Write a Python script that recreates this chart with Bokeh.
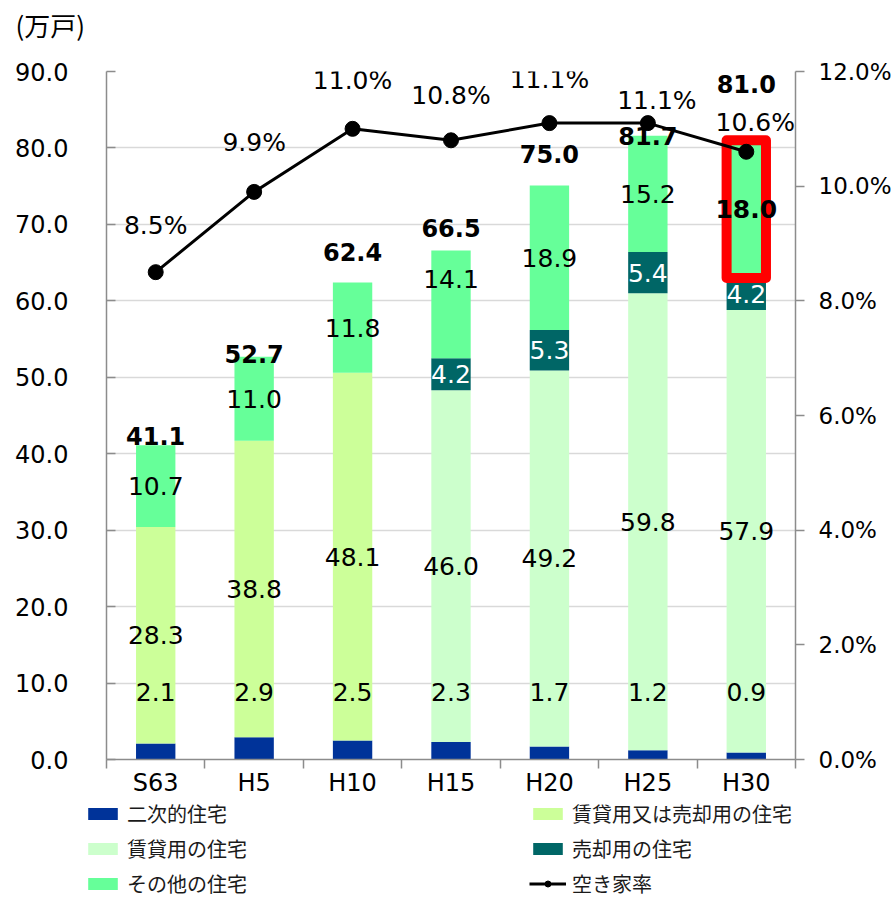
from bokeh.plotting import figure
from bokeh.layouts import column, row
from bokeh.models import (Range1d, LinearAxis, FixedTicker, NumeralTickFormatter,
                          ColumnDataSource, LabelSet, Label, Legend, LegendItem)
from bokeh.core.properties import value
from bokeh.embed import file_html
from bokeh.resources import INLINE

# ---------------- data ----------------
years = ["S63", "H5", "H10", "H15", "H20", "H25", "H30"]
second_home = [2.1, 2.9, 2.5, 2.3, 1.7, 1.2, 0.9]          # 二次的住宅
rent_or_sale = [28.3, 38.8, 48.1, 0, 0, 0, 0]              # 賃貸用又は売却用の住宅
rent = [0, 0, 0, 46.0, 49.2, 59.8, 57.9]                   # 賃貸用の住宅
sale = [0, 0, 0, 4.2, 5.3, 5.4, 4.2]                       # 売却用の住宅
other = [10.7, 11.0, 11.8, 14.1, 18.9, 15.2, 18.0]         # その他の住宅
totals = [41.1, 52.7, 62.4, 66.5, 75.0, 81.7, 81.0]
vacancy_rate = [8.5, 9.9, 11.0, 10.8, 11.1, 11.1, 10.6]    # 空き家率 (%)
y_ticks = [0, 10, 20, 30, 40, 50, 60, 70, 80, 90]
rate_ticks = [0, 2, 4, 6, 8, 10, 12]
series_names = ["二次的住宅", "賃貸用又は売却用の住宅", "賃貸用の住宅", "売却用の住宅", "その他の住宅"]
line_name = "空き家率"
unit_label = "(万戸)"
highlight_year = "H30"

# label placement tweaks (screen px, positive = up / right)
total_label_dy = [9, 3, 30, 22, 31, 0, 56]
rate_label_dy = [47, 49, 48, 45, 44, 23, 29]
rate_label_dx = [0, 0, 0, 0, 0, 9, 9]
other_label_dy = [0, 0, 0, 25, 0, 0, 0]

colors = ["#003399", "#CCFF99", "#CCFFCC", "#006666", "#66FF99"]
NUM_FONT = "DejaVu Sans"
JP_FONT = "Noto Sans CJK JP"
W = 896

n = len(years)
xs = [i + 0.5 for i in range(n)]
keys = ["s", "rs", "r", "sa", "o"]
src = ColumnDataSource(dict(x=xs, s=second_home, rs=rent_or_sale, r=rent, sa=sale, o=other))

# ---------------- top strip with the unit ----------------
top = figure(width=W, height=46, x_range=Range1d(0, 1), y_range=Range1d(0, 1),
             output_backend="svg", toolbar_location=None, min_border=0,
             x_axis_location=None, y_axis_location=None)
top.outline_line_color = None
top.grid.visible = False
top.add_layout(Label(x=15, y=22, x_units="screen", y_units="screen", text=unit_label,
                     text_font=JP_FONT, text_font_size="26px", text_baseline="middle",
                     text_color="black"))

# ---------------- main chart ----------------
p = figure(width=W, height=753, x_range=Range1d(0, n), y_range=Range1d(0, 90),
           output_backend="svg", toolbar_location=None,
           min_border_left=106, min_border_right=101, min_border_top=25, min_border_bottom=38)
p.outline_line_color = None
p.extra_y_ranges = {"rate": Range1d(0, 0.12)}

p.vbar_stack(keys, x="x", width=0.4, source=src, fill_color=colors, line_color=None)

# highlight outline around the H30 "other" segment
hi = years.index(highlight_year)
hb = second_home[hi] + rent_or_sale[hi] + rent[hi] + sale[hi]
p.vbar(x=[xs[hi]], bottom=[hb], top=[hb + other[hi]], width=0.4,
       fill_color=None, line_color="#FF0000", line_width=10, line_join="round")

rate_src = ColumnDataSource(dict(x=xs, y=[v / 100 for v in vacancy_rate]))
p.line("x", "y", source=rate_src, y_range_name="rate", line_color="black", line_width=3,
       level="overlay")
p.scatter("x", "y", source=rate_src, y_range_name="rate", size=15, fill_color="black",
          line_color="black", level="overlay")

AX = "#8C8C8C"
yax = p.yaxis[0]
yax.ticker = FixedTicker(ticks=y_ticks)
yax.formatter = NumeralTickFormatter(format="0.0")
yax.major_tick_in = 9
yax.major_tick_out = 0
yax.minor_tick_line_color = None
yax.axis_line_color = AX
yax.axis_line_width = 1.5
yax.major_tick_line_color = AX
yax.major_tick_line_width = 1.5
yax.major_label_standoff = 38
yax.major_label_text_font = NUM_FONT
yax.major_label_text_font_size = "24px"
yax.major_label_text_color = "black"

rax = LinearAxis(y_range_name="rate", ticker=FixedTicker(ticks=[t / 100 for t in rate_ticks]),
                 formatter=NumeralTickFormatter(format="0.0%"))
rax.major_tick_in = 0
rax.major_tick_out = 9
rax.minor_tick_line_color = None
rax.axis_line_color = AX
rax.axis_line_width = 1.5
rax.major_tick_line_color = AX
rax.major_tick_line_width = 1.5
rax.major_label_standoff = 14
rax.major_label_text_font = NUM_FONT
rax.major_label_text_font_size = "23px"
rax.major_label_text_color = "black"
p.add_layout(rax, "right")

xax = p.xaxis[0]
xax.ticker = FixedTicker(ticks=xs, minor_ticks=list(range(n + 1)))
xax.major_label_overrides = {x: y for x, y in zip(xs, years)}
xax.major_tick_in = 0
xax.major_tick_out = 0
xax.minor_tick_in = 0
xax.minor_tick_out = 9
xax.minor_tick_line_color = AX
xax.minor_tick_line_width = 1.5
xax.axis_line_color = AX
xax.axis_line_width = 1.5
xax.major_label_standoff = 0
xax.major_label_text_font = NUM_FONT
xax.major_label_text_font_size = "24px"
xax.major_label_text_color = "black"

p.xgrid.visible = False
p.ygrid.ticker = FixedTicker(ticks=y_ticks)
p.ygrid.grid_line_color = "#D9D9D9"
p.ygrid.grid_line_width = 1.5


def add_labels(xv, yv, texts, color="black", style="normal", dy=None, dx=None, yr="default", size="25px"):
    d = dict(x=xv, y=yv, t=texts,
             dy=dy if dy is not None else [0] * len(xv),
             dx=dx if dx is not None else [0] * len(xv))
    ls = LabelSet(x="x", y="y", text="t", source=ColumnDataSource(d), x_offset="dx", y_offset="dy",
                  text_align="center", text_baseline="middle", text_color=color,
                  text_font=value(NUM_FONT), text_font_size=size, text_font_style=style,
                  y_range_name=yr)
    p.add_layout(ls)


# 二次的住宅 labels (all at the same height above the axis)
add_labels(xs, [0] * n, [f"{v:.1f}" for v in second_home], dy=[68] * n)

cum = [0.0] * n
for vals, name in [(second_home, "s"), (rent_or_sale, "rs"), (rent, "r"), (sale, "sa"), (other, "o")]:
    idx = [i for i in range(n) if vals[i] > 0]
    centers = [cum[i] + vals[i] / 2 for i in idx]
    if name == "o":
        normal = [k for k, i in enumerate(idx) if years[i] != highlight_year]
        bold = [k for k, i in enumerate(idx) if years[i] == highlight_year]
        add_labels([xs[idx[k]] for k in normal], [centers[k] for k in normal],
                   [f"{vals[idx[k]]:.1f}" for k in normal],
                   dy=[other_label_dy[idx[k]] for k in normal])
        add_labels([xs[idx[k]] for k in bold], [centers[k] for k in bold],
                   [f"{vals[idx[k]]:.1f}" for k in bold],
                   dy=[other_label_dy[idx[k]] for k in bold], style="bold")
    elif name != "s":
        col = "white" if name == "sa" else "black"
        add_labels([xs[i] for i in idx], centers, [f"{vals[i]:.1f}" for i in idx], color=col)
    for i in range(n):
        cum[i] += vals[i]

add_labels(xs, cum, [f"{v:.1f}" for v in totals], style="bold", dy=total_label_dy, size="24px")
add_labels(xs, [v / 100 for v in vacancy_rate], [f"{v:.1f}%" for v in vacancy_rate],
           dy=rate_label_dy, dx=rate_label_dx, yr="rate")

# ---------------- legend strip ----------------
leg = figure(width=W, height=100, x_range=Range1d(0, 1), y_range=Range1d(0, 1),
             output_backend="svg", toolbar_location=None, min_border=0,
             x_axis_location=None, y_axis_location=None)
leg.outline_line_color = None
leg.grid.visible = False
# invisible proxies (zero-height bars, zero-size marker) that only feed the legend swatches
proxy_bars = [leg.vbar(x=[0], top=[0], width=0.0, fill_color=c, line_color=None) for c in colors]
proxy_line = leg.line(x=[0], y=[0], line_color="black", line_width=3)
proxy_pts = leg.scatter(x=[0], y=[0], size=0, fill_color="black", line_color="black")
items = [LegendItem(label=nm, renderers=[r]) for nm, r in zip(series_names, proxy_bars)]
items.append(LegendItem(label=line_name, renderers=[proxy_line, proxy_pts]))
lg = Legend(items=items, location=(84, 1), ncols=2, orientation="horizontal")
lg.border_line_color = None
lg.background_fill_alpha = 0
lg.padding = 0
lg.margin = 0
lg.spacing = 6
lg.glyph_width = 37
lg.glyph_height = 15
lg.label_standoff = 6
lg.label_width = 396
lg.label_height = 22
lg.label_text_font = JP_FONT
lg.label_text_font_size = "20px"
lg.label_text_color = "#1a1a1a"
leg.add_layout(lg)

layout = column(row(top), p, row(leg), spacing=0)
open("out.html", "w").write(file_html(layout, INLINE))
